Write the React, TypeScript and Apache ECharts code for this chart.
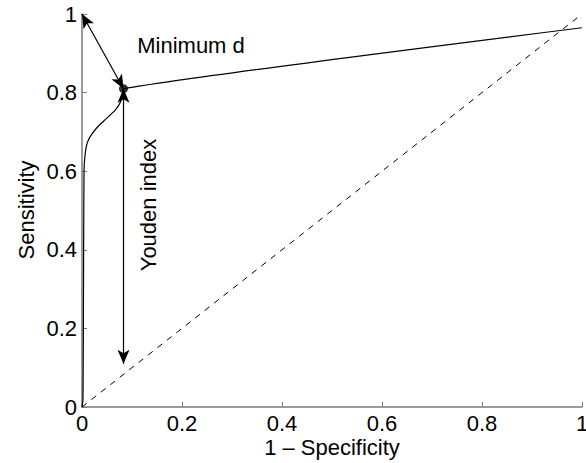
import React, { useEffect, useRef } from "react";
import * as echarts from "echarts";

// ROC curve (1 - specificity, sensitivity)
const rocFpr = [0, 0.002, 0.003, 0.004, 0.006, 0.009, 0.013, 0.02, 0.028, 0.037, 0.048, 0.058, 0.066, 0.073, 0.078, 0.081, 0.083, 1];
const rocTpr = [0, 0.02, 0.3, 0.6, 0.64, 0.665, 0.68, 0.695, 0.708, 0.72, 0.733, 0.745, 0.755, 0.767, 0.78, 0.795, 0.81, 0.965];
const chanceLine = [[0, 0], [1, 1]];
const optimalPoint = [0.083, 0.81];
const perfectPoint = [0, 1];
const youdenBase = [0.083, 0.11];
const xTicks = [0, 0.2, 0.4, 0.6, 0.8, 1];
const yTicks = [0, 0.2, 0.4, 0.6, 0.8, 1];
const labels = { x: "1 – Specificity", y: "Sensitivity", minD: "Minimum d", youden: "Youden index" };

const FONT = "'Liberation Sans', Arial, Helvetica, sans-serif";
const AXIS_GRAY = "#7a7a7a";

export default function App() {
  const ref = useRef<HTMLDivElement>(null);
  useEffect(() => {
    if (!ref.current) return;
    const chart = echarts.init(ref.current, undefined, { renderer: "svg" });
    const roc = rocFpr.map((x, i) => [x, rocTpr[i]]);
    const axisCommon = {
      type: "value" as const,
      min: 0,
      max: 1,
      interval: 0.2,
      axisLine: { show: true, lineStyle: { color: AXIS_GRAY, width: 1.5 } },
      axisTick: { show: true, inside: true, length: 5, lineStyle: { color: AXIS_GRAY, width: 1 } },
      splitLine: { show: false },
      axisLabel: {
        color: "#000",
        fontSize: 22,
        fontFamily: FONT,
        margin: 5,
        showMinLabel: true,
        showMaxLabel: true,
        formatter: (v: number) => {
          const t = [...xTicks, ...yTicks].find((k) => Math.abs(k - v) < 1e-9);
          return t === undefined ? "" : String(t);
        },
      },
    };
    chart.setOption({
      animation: false,
      backgroundColor: "#fff",
      grid: { left: 82, right: 4, top: 14, bottom: 56, containLabel: false, outerBoundsMode: "none" },
      xAxis: { ...axisCommon },
      yAxis: { ...axisCommon },
      series: [
        {
          type: "line",
          data: chanceLine,
          symbol: "none",
          lineStyle: { color: "#000", width: 1, type: [6, 6] },
          silent: true,
        },
        {
          type: "line",
          data: roc,
          symbol: "none",
          smooth: 0.2,
          lineStyle: { color: "#000", width: 1.2 },
          silent: true,
          markLine: {
            silent: true,
            symbol: ["arrow", "arrow"],
            symbolSize: [9, 14],
            label: { show: false },
            lineStyle: { color: "#000", width: 1.2, type: "solid" },
            data: [
              [{ coord: perfectPoint }, { coord: optimalPoint }],
              [{ coord: optimalPoint }, { coord: youdenBase }],
            ],
          },
        },
        {
          type: "scatter",
          data: [optimalPoint],
          symbol: "circle",
          symbolSize: 9,
          itemStyle: { color: "#000" },
          silent: true,
        },
      ],
      graphic: [
        {
          type: "text",
          x: 191,
          y: 45,
          style: { text: labels.minD, fontSize: 22, fontFamily: FONT, fill: "#000", align: "center", verticalAlign: "middle" },
        },
        {
          type: "text",
          x: 148,
          y: 205,
          rotation: Math.PI / 2,
          style: { text: labels.youden, fontSize: 22, fontFamily: FONT, fill: "#000", align: "center", verticalAlign: "middle" },
        },
        {
          type: "text",
          x: 332,
          y: 447,
          style: { text: labels.x, fontSize: 22, fontFamily: FONT, fill: "#000", align: "center", verticalAlign: "middle" },
        },
        {
          type: "text",
          x: 26,
          y: 210,
          rotation: Math.PI / 2,
          style: { text: labels.y, fontSize: 22, fontFamily: FONT, fill: "#000", align: "center", verticalAlign: "middle" },
        },
      ],
    });
    return () => chart.dispose();
  }, []);
  return <div ref={ref} style={{ position: "fixed", left: 0, top: 0, width: 586, height: 463, background: "#fff" }} />;
}
